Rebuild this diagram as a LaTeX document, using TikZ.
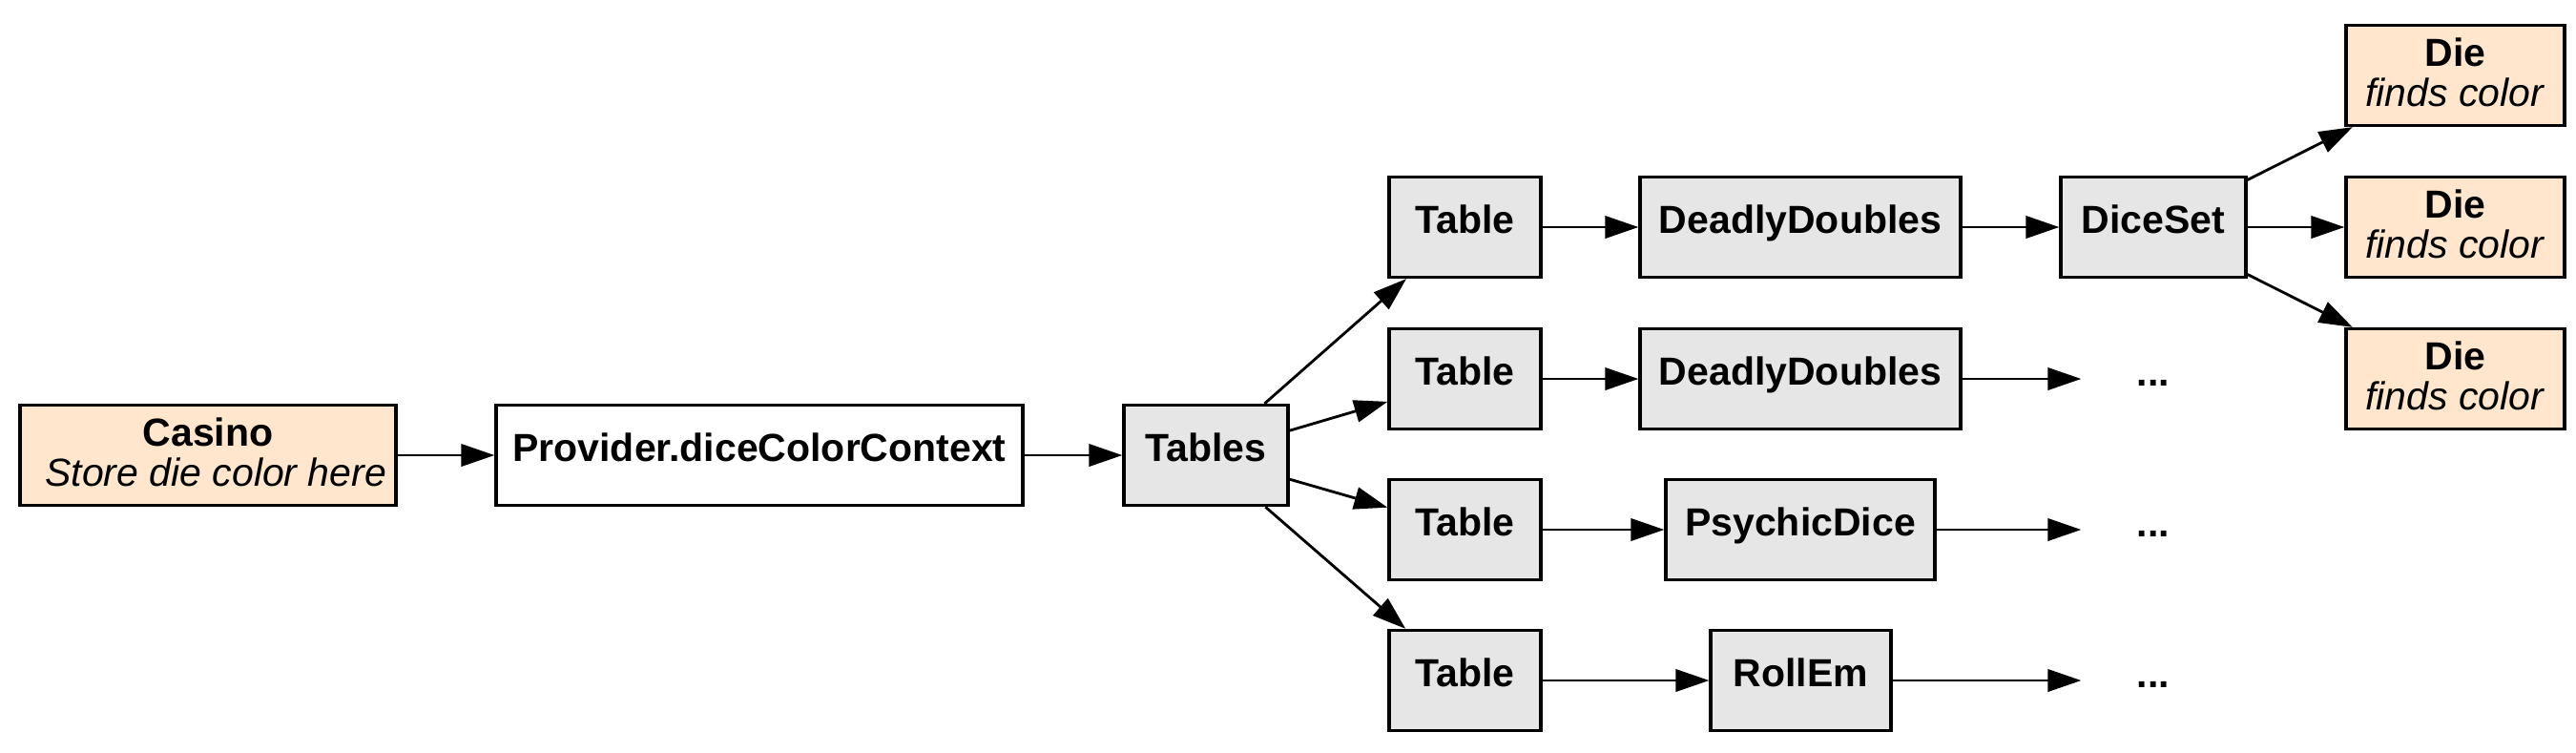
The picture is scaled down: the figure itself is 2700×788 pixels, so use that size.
\documentclass[tikz,border=0pt]{standalone}
\usepackage{fontspec}
\setmainfont{Liberation Sans}
\usetikzlibrary{arrows.meta}
\definecolor{peach}{HTML}{FFE6CC}
\definecolor{lgray}{HTML}{E6E6E6}
\begin{document}
\begin{tikzpicture}[x=0.3pt,y=-0.3pt,
  box/.style={draw=black, line width=1pt, minimum height=31.5pt, inner sep=0pt,
    font=\fontsize{12.3}{12.8}\selectfont\bfseries, text height=0.72em, text depth=0.35em,
    minimum width=#1},
  box2/.style={draw=black, line width=1pt, minimum height=31.5pt, inner sep=0pt,
    font=\fontsize{12.3}{12.6}\selectfont, align=center, text depth=0.2em, minimum width=#1},
  dotsn/.style={inner sep=0pt, font=\fontsize{12.3}{12.8}\selectfont\bfseries,
    text height=0.72em, text depth=0.3em, minimum width=45pt},
  conn/.style={-{Triangle[length=10.5pt,width=7pt]}, line width=0.85pt}]
\fill[white] (0,0) rectangle (2700,788);
\useasboundingbox (0,0) rectangle (2700,788);

\node[box2=118.2pt, fill=peach] (casino) at (218,477)
  {\textbf{Casino}\\\kern0.4em\textit{Store die color here}};
\node[box=165.6pt, fill=white] (provider) at (796,477) {Provider.diceColorContext};
\node[box=51.6pt, fill=lgray] (tables) at (1264,477) {Tables};

\node[box=47.7pt, fill=lgray] (t1) at (1535.5,238) {Table};
\node[box=47.7pt, fill=lgray] (t2) at (1535.5,397) {Table};
\node[box=47.7pt, fill=lgray] (t3) at (1535.5,555) {Table};
\node[box=47.7pt, fill=lgray] (t4) at (1535.5,713) {Table};

\node[box=100.8pt, fill=lgray] (dd1) at (1887,238) {DeadlyDoubles};
\node[box=100.8pt, fill=lgray] (dd2) at (1887,397) {DeadlyDoubles};
\node[box=84.6pt, fill=lgray] (psy) at (1887,555) {PsychicDice};
\node[box=56.7pt, fill=lgray] (roll) at (1887.5,713) {RollEm};

\node[box=58.2pt, fill=lgray] (diceset) at (2257,238) {DiceSet};

\node[box2=68.7pt, fill=peach] (die1) at (2573.5,79) {\textbf{Die}\\\textit{finds color}};
\node[box2=68.7pt, fill=peach] (die2) at (2573.5,238) {\textbf{Die}\\\textit{finds color}};
\node[box2=68.7pt, fill=peach] (die3) at (2573.5,397) {\textbf{Die}\\\textit{finds color}};

\node[dotsn] (d2) at (2257,397) {...};
\node[dotsn] (d3) at (2257,555) {...};
\node[dotsn] (d4) at (2257,713) {...};

\draw[conn] (casino) -- (provider);
\draw[conn] (provider) -- (tables);
\draw[conn] (tables) -- (t1);
\draw[conn] (tables) -- (t2);
\draw[conn] (tables) -- (t3);
\draw[conn] (tables) -- (t4);
\draw[conn] (t1) -- (dd1);
\draw[conn] (t2) -- (dd2);
\draw[conn] (t3) -- (psy);
\draw[conn] (t4) -- (roll);
\draw[conn] (dd1) -- (diceset);
\draw[conn] (diceset) -- (die1);
\draw[conn] (diceset) -- (die2);
\draw[conn] (diceset) -- (die3);
\draw[conn] (dd2) -- (d2);
\draw[conn] (psy) -- (d3);
\draw[conn] (roll) -- (d4);
\end{tikzpicture}
\end{document}
